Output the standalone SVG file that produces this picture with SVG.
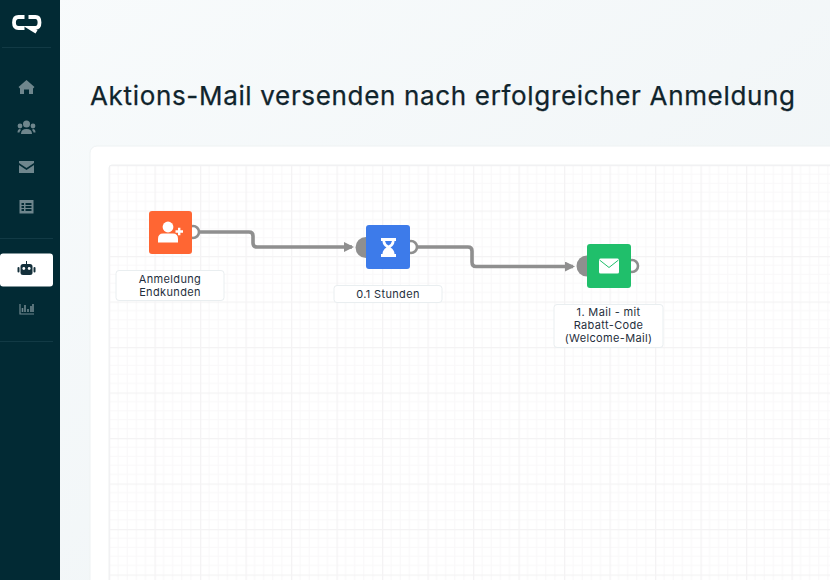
<svg xmlns="http://www.w3.org/2000/svg" width="830" height="580" viewBox="0 0 830 580">
<style>
.ttl{font:400 26px Inter,"Noto Sans",sans-serif;fill:#10242c;stroke:#10242c;stroke-width:.25px}
.lbl{font:400 11px Inter,"Noto Sans",sans-serif;fill:#1f2f3d;text-anchor:middle;letter-spacing:.35px}
.box{fill:#fff;stroke:#e9eef0;stroke-width:1}
.conn{fill:none;stroke:#8f8f8f;stroke-width:3.600}
.out{fill:#fff;stroke:#8f8f8f;stroke-width:2.600}
.nav{fill:#6f868d}
.div{stroke:#123a45;stroke-width:1}
</style>
<defs>
<linearGradient id="bg" x1="0" y1="0" x2="1" y2="1"><stop offset="0" stop-color="#f8fbfc"/><stop offset="1" stop-color="#eef3f5"/></linearGradient>
<pattern id="grid" x="109" y="165" width="45.500" height="45.500" patternUnits="userSpaceOnUse">
<rect width="45.500" height="45.500" fill="#fff"/>
<path d="M9.100 0V45.500M18.200 0V45.500M27.300 0V45.500M36.400 0V45.500M0 9.100H45.500M0 18.200H45.500M0 27.300H45.500M0 36.400H45.500" stroke="#f9f8f9" stroke-width="1" fill="none"/>
<path d="M0.500 0V45.500M0 0.500H45.500" stroke="#f4f3f4" stroke-width="1.500" fill="none"/>
</pattern>
<marker id="arr" markerWidth="12" markerHeight="12" refX="8" refY="5" orient="auto" markerUnits="userSpaceOnUse"><path d="M0 0L10 5L0 10Z" fill="#8f8f8f"/></marker>
</defs>
<rect width="830" height="580" fill="url(#bg)"/>
<g id="sidebar">
<rect width="60" height="580" fill="#022a34"/>
<path d="M24.500 17H18.500Q14 17 14 22.500Q14 28 18.500 28H24.500" fill="none" stroke="#fff" stroke-width="3.800"/>
<path d="M28.500 17H35.500Q39.500 17 39.500 22.500Q39.500 27.800 35.500 27.800H30L36.500 31.800" fill="none" stroke="#fff" stroke-width="3.800"/>
<path class="div" d="M2 47.500H51M0 238.500H53M0 341.500H53" fill="none"/>
<path class="nav" d="M26.500 80L34.500 87L33 88.500V94H29V89.500H24V94H20V88.500L18.500 87Z"/>
<g class="nav"><circle cx="26.500" cy="124" r="3.500"/><circle cx="20" cy="126" r="2.400"/><circle cx="33" cy="126" r="2.400"/><path d="M21 134Q21 129 26.500 129Q32 129 32 134ZM17.500 132.500Q17.500 129 20 129L21 130Q19.500 131 19.500 132.500ZM35.500 132.500Q35.500 129 33 129L32 130Q33.500 131 33.500 132.500Z"/></g>
<path class="nav" d="M19 161H34V163L26.500 168L19 163ZM19 165L26.500 170L34 165V173H19Z"/>
<path class="nav" d="M19.500 200H33.500V213.500H19.500ZM21.500 203V205H24V203ZM25.500 203V205H31.500V203ZM21.500 206V208H24V206ZM25.500 206V208H31.500V206ZM21.500 209V211H24V209ZM25.500 209V211H31.500V209Z" fill-rule="evenodd"/>
<rect x="0" y="253.500" width="53" height="33" rx="3" fill="#fff"/>
<g fill="#14303b"><rect x="20.500" y="264" width="12" height="11" rx="2.500"/><rect x="17.500" y="267" width="2" height="5.500" rx="1"/><rect x="33.500" y="267" width="2" height="5.500" rx="1"/><rect x="26" y="261" width="1" height="3"/></g>
<circle cx="23.800" cy="268.500" r="1.400" fill="#fff"/><circle cx="29.200" cy="268.500" r="1.400" fill="#fff"/>
<path d="M20 304V314H34" fill="none" stroke="#6f868d" stroke-width="1.200"/>
<path d="M22.500 312V308M25 312V305M28 312V309M31 312V306M33 312V304" stroke="#6f868d" stroke-width="1.600"/>
</g>
<text class="ttl" x="90" y="104.500" textLength="705" lengthAdjust="spacing">Aktions-Mail versenden nach erfolgreicher Anmeldung</text>
<rect x="90" y="146" width="760" height="460" rx="7" fill="#fff" stroke="#eef2f3"/>
<rect x="109" y="165" width="740" height="440" rx="3" fill="url(#grid)" stroke="#eef0f1"/>
<g id="connectors">
<path class="conn" d="M198 232H249Q253 232 253 236V243Q253 247 257 247H352" marker-end="url(#arr)"/>
<path class="conn" d="M416 247H468Q472 247 472 251V262Q472 266.500 476 266.500H573" marker-end="url(#arr)"/>
</g>
<g id="node-anmeldung">
<circle class="out" cx="193" cy="232" r="6"/>
<rect x="149" y="211" width="43" height="43" rx="3" fill="#ff6633"/>
<circle cx="168" cy="227" r="5.400" fill="#fff"/>
<path d="M158 242.500V239Q158 233.500 163 233.500H173Q178 233.500 178 239V242.500Z" fill="#fff"/>
<path d="M175.500 231.500H183M179.200 227.800V235.200" stroke="#fff" stroke-width="2.400"/>
<rect class="box" x="116" y="270.500" width="108" height="30" rx="3"/>
<text class="lbl" x="170" y="283">Anmeldung</text><text class="lbl" x="170" y="296">Endkunden</text>
</g>
<g id="node-stunden">
<path d="M366 237A10.500 10.500 0 0 0 366 258Z" fill="#8f8f8f"/>
<circle class="out" cx="411" cy="247" r="6"/>
<rect x="366" y="225" width="44" height="44" rx="3" fill="#3d7bea"/>
<path d="M381 238H396V241H394.500Q394.500 245 390.500 247.500Q394.500 250 394.500 254H396V257H381V254H382.500Q382.500 250 386.500 247.500Q382.500 245 382.500 241H381Z" fill="#fff"/>
<path d="M385 241H392Q391.500 244 388.500 245.500Q385.500 244 385 241Z" fill="#3d7bea"/>
<rect class="box" x="334" y="285.500" width="108" height="17" rx="3"/>
<text class="lbl" x="388" y="297.500">0.1 Stunden</text>
</g>
<g id="node-mail">
<path d="M587 255.500A10.500 10.500 0 0 0 587 276.500Z" fill="#8f8f8f"/>
<circle class="out" cx="632" cy="266" r="6"/>
<rect x="587" y="244" width="44" height="44" rx="3" fill="#20bf6b"/>
<rect x="599" y="258.500" width="20" height="15" rx="1.500" fill="#fff"/>
<path d="M599.500 260L609 267.500L618.500 260" fill="none" stroke="#20bf6b" stroke-width="1"/>
<rect class="box" x="554" y="304.500" width="109" height="43" rx="3"/>
<text class="lbl" x="608.500" y="316">1. Mail - mit</text><text class="lbl" x="608.500" y="329">Rabatt-Code</text><text class="lbl" x="608.500" y="342">(Welcome-Mail)</text>
</g>
</svg>
